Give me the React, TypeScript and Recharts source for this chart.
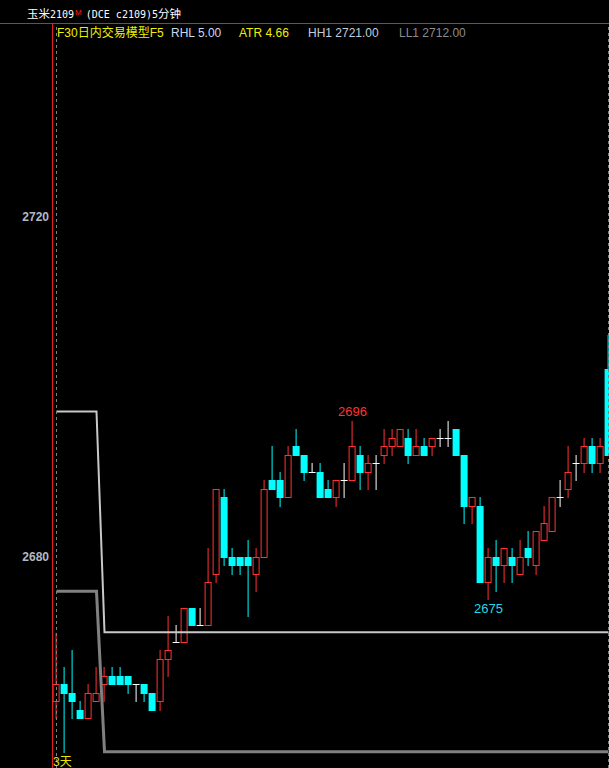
import React from 'react';
import { ComposedChart, Bar, Line, XAxis, YAxis, ReferenceLine, Scatter } from 'recharts';

// 5-minute candles, 玉米2109
const opens = [
  2663, 2665, 2664, 2662, 2661, 2663, 2665, 2666, 2666, 2666,
  2665, 2665, 2664, 2663, 2668, 2670, 2670, 2674, 2672, 2672,
  2678, 2687, 2680, 2680, 2680, 2678, 2680, 2689, 2689, 2687,
  2693, 2692, 2690, 2690, 2688, 2687, 2689, 2689, 2692, 2690,
  2691, 2692, 2693, 2693, 2694, 2692, 2693, 2693, 2694, 2694,
  2695, 2692, 2686, 2686, 2677, 2680, 2679, 2680, 2678, 2681,
  2679, 2682, 2683, 2687, 2688, 2691, 2691, 2693, 2691, 2702,
];
const highs = [
  2671, 2667, 2669, 2663, 2665, 2667, 2667, 2667, 2667, 2666,
  2665, 2665, 2664, 2669, 2673, 2672, 2674, 2674, 2674, 2681,
  2688, 2688, 2681, 2680, 2682, 2681, 2689, 2693, 2690, 2693,
  2695, 2692, 2691, 2691, 2689, 2689, 2691, 2696, 2693, 2692,
  2692, 2695, 2695, 2695, 2695, 2695, 2694, 2694, 2695, 2696,
  2695, 2692, 2687, 2687, 2681, 2682, 2681, 2681, 2682, 2683,
  2683, 2686, 2687, 2689, 2693, 2692, 2694, 2694, 2694, 2706,
];
const lows = [
  2661, 2657, 2661, 2661, 2661, 2663, 2663, 2665, 2665, 2664,
  2663, 2663, 2662, 2662, 2666, 2670, 2670, 2672, 2672, 2672,
  2677, 2679, 2678, 2678, 2673, 2676, 2680, 2688, 2686, 2687,
  2692, 2689, 2690, 2687, 2687, 2686, 2687, 2689, 2688, 2688,
  2688, 2691, 2692, 2693, 2691, 2692, 2692, 2692, 2693, 2693,
  2692, 2684, 2684, 2677, 2675, 2676, 2677, 2677, 2678, 2679,
  2678, 2682, 2683, 2686, 2687, 2689, 2690, 2690, 2690, 2692,
];
const closes = [
  2665, 2664, 2663, 2661, 2664, 2664, 2666, 2665, 2665, 2665,
  2665, 2664, 2662, 2668, 2669, 2670, 2674, 2672, 2672, 2677,
  2688, 2680, 2679, 2679, 2679, 2680, 2688, 2688, 2687, 2692,
  2692, 2690, 2690, 2687, 2687, 2689, 2689, 2693, 2690, 2691,
  2691, 2693, 2694, 2695, 2692, 2693, 2692, 2694, 2694, 2694,
  2692, 2686, 2687, 2677, 2680, 2679, 2681, 2679, 2680, 2680,
  2683, 2684, 2687, 2687, 2690, 2691, 2693, 2691, 2693, 2692,
];

// channel lines (break points)
const bandIdx = [0, 5, 6, 69];
const upperBand = [2697.12, 2697.12, 2671.14, 2671.14];
const lowerBand = [2675.96, 2675.96, 2657.1, 2657.1];

// day separators
const daySeparators = [0, 69];

// marked extremes
const peakMark = [{ i: 37, v: 2696, text: '2696' }];
const troughMark = [{ i: 54, v: 2675, text: '2675' }];

const yTicks = [2680, 2720];
const yDomain = [2655.1765, 2742.8235];
const xDomain = [-0.5625, 69.0625];

const RED = '#ff3232';
const CYAN = '#00ffff';
const WHITE = '#ffffff';
const AXIS_RED = '#e01e1e';

const rows = opens.map((o, i) => ({
  i,
  o,
  h: highs[i],
  l: lows[i],
  c: closes[i],
  range: [lows[i], highs[i]],
}));
const upperData = bandIdx.map((i, k) => ({ i, v: upperBand[k] }));
const lowerData = bandIdx.map((i, k) => ({ i, v: lowerBand[k] }));

const Candle = (props: any) => {
  const { x, y, width, height, payload } = props;
  if (!payload) return null;
  const { o, h, l, c } = payload;
  const top = Math.min(y, y + height);
  const bot = Math.max(y, y + height);
  const k = h !== l ? (bot - top) / (h - l) : 8.5;
  const py = (v: number) => Math.floor(top + (h - v) * k);
  const cx = x + width / 2;
  const yH = py(h);
  const yL = py(l);
  if (o === c) {
    const yb = py(o);
    return (
      <g>
        <line x1={cx} x2={cx} y1={yH} y2={yL + 1} stroke={WHITE} strokeWidth={1} />
        <line x1={cx - 3.5} x2={cx + 3.5} y1={yb + 0.5} y2={yb + 0.5} stroke={WHITE} strokeWidth={1} />
      </g>
    );
  }
  const bTop = py(Math.max(o, c));
  const bBot = py(Math.min(o, c));
  if (c > o) {
    return (
      <g>
        {yH < bTop && <line x1={cx} x2={cx} y1={yH} y2={bTop} stroke={RED} strokeWidth={1} />}
        {yL > bBot && <line x1={cx} x2={cx} y1={bBot + 1} y2={yL + 1} stroke={RED} strokeWidth={1} />}
        <rect x={cx - 3} y={bTop + 0.5} width={6} height={Math.max(1, bBot - bTop)} fill="#000" stroke={RED} strokeWidth={1} />
      </g>
    );
  }
  return (
    <g>
      <line x1={cx} x2={cx} y1={yH} y2={yL + 1} stroke={CYAN} strokeWidth={1} />
      <rect x={cx - 3.5} y={bTop} width={7} height={Math.max(1, bBot - bTop + 1)} fill={CYAN} />
    </g>
  );
};

const PeakLabel = (props: any) => {
  const { cx, cy, payload } = props;
  return (
    <text x={cx} y={cy - 5} textAnchor="middle" fill={RED} fontSize={13} fontFamily="'Liberation Sans', Arial, sans-serif">
      {payload.text}
    </text>
  );
};
const TroughLabel = (props: any) => {
  const { cx, cy, payload } = props;
  return (
    <text x={cx} y={cy + 13} textAnchor="middle" fill="#20d8e8" fontSize={13} fontFamily="'Liberation Sans', Arial, sans-serif">
      {payload.text}
    </text>
  );
};

const sans = "'Liberation Sans', 'Noto Sans CJK SC', Arial, sans-serif";
const mono = "'DejaVu Sans Mono', 'Liberation Mono', monospace";
const cjk = "'Noto Sans CJK SC', sans-serif";

export default function App() {
  return (
    <div style={{ position: 'fixed', left: 0, top: 0, width: 609, height: 768, background: '#000', overflow: 'hidden' }}>
      <ComposedChart width={609} height={768} data={rows} margin={{ top: 23, right: 0, bottom: 0, left: 0 }}>
        <XAxis dataKey="i" type="number" domain={xDomain} allowDataOverflow hide />
        <YAxis
          type="number"
          domain={yDomain}
          allowDataOverflow
          ticks={yTicks}
          interval={0}
          width={52}
          tickSize={0}
          tickMargin={3}
          tickLine={false}
          axisLine={false}
          tick={{ fill: '#b4b8c0', fontSize: 12, fontWeight: 'bold', fontFamily: "'Liberation Sans', Arial, sans-serif" }}
        />
        <Bar dataKey="range" barSize={8} shape={Candle} isAnimationActive={false} />
        <Line data={upperData} dataKey="v" type="linear" stroke="#c8c8c8" strokeWidth={2} dot={false} activeDot={false} isAnimationActive={false} />
        <Line data={lowerData} dataKey="v" type="linear" stroke="#808080" strokeWidth={3} dot={false} activeDot={false} isAnimationActive={false} />
        {daySeparators.map((d) => (
          <ReferenceLine key={d} x={d} stroke="#808080" strokeDasharray="3 3" strokeWidth={1} />
        ))}
        <Scatter data={peakMark} dataKey="v" shape={PeakLabel} isAnimationActive={false} />
        <Scatter data={troughMark} dataKey="v" shape={TroughLabel} isAnimationActive={false} />
      </ComposedChart>

      <div style={{ position: 'absolute', left: 0, top: 23, width: 609, height: 1, background: AXIS_RED }} />
      <div style={{ position: 'absolute', left: 52, top: 23, width: 1, height: 745, background: AXIS_RED }} />

      <div style={{ position: 'absolute', left: 27, top: 4, height: 18, lineHeight: '18px', whiteSpace: 'nowrap', color: '#fff' }}>
        <span style={{ fontFamily: cjk, fontSize: 11.5 }}>玉米</span>
        <span style={{ fontFamily: mono, fontSize: 10 }}>2109</span>
        <span style={{ fontFamily: sans, fontSize: 8, color: '#ff2020', verticalAlign: 3, marginLeft: 1 }}>M</span>
        <span style={{ fontFamily: mono, fontSize: 10, marginLeft: 4 }}>(DCE c2109)5</span>
        <span style={{ fontFamily: cjk, fontSize: 11.5 }}>分钟</span>
      </div>

      <div style={{ position: 'absolute', left: 57, top: 24, height: 18, lineHeight: '18px', whiteSpace: 'nowrap', fontFamily: sans, fontSize: 12, color: '#f0f000' }}>
        F30日内交易模型F5
      </div>
      <div style={{ position: 'absolute', left: 171, top: 24, height: 18, lineHeight: '18px', whiteSpace: 'nowrap', fontFamily: sans, fontSize: 12, color: '#c8d8f0' }}>
        RHL 5.00
      </div>
      <div style={{ position: 'absolute', left: 239, top: 24, height: 18, lineHeight: '18px', whiteSpace: 'nowrap', fontFamily: sans, fontSize: 12, color: '#f0f000' }}>
        ATR 4.66
      </div>
      <div style={{ position: 'absolute', left: 308, top: 24, height: 18, lineHeight: '18px', whiteSpace: 'nowrap', fontFamily: sans, fontSize: 12, color: '#c0cfdf' }}>
        HH1 2721.00
      </div>
      <div style={{ position: 'absolute', left: 399, top: 24, height: 18, lineHeight: '18px', whiteSpace: 'nowrap', fontFamily: sans, fontSize: 12, color: '#8c8c8c' }}>
        LL1 2712.00
      </div>

      <div style={{ position: 'absolute', left: 53, top: 752, height: 18, lineHeight: '18px', whiteSpace: 'nowrap', color: '#e6e600' }}>
        <span style={{ fontFamily: sans, fontSize: 12 }}>3</span>
        <span style={{ fontFamily: cjk, fontSize: 12 }}>天</span>
      </div>
    </div>
  );
}
